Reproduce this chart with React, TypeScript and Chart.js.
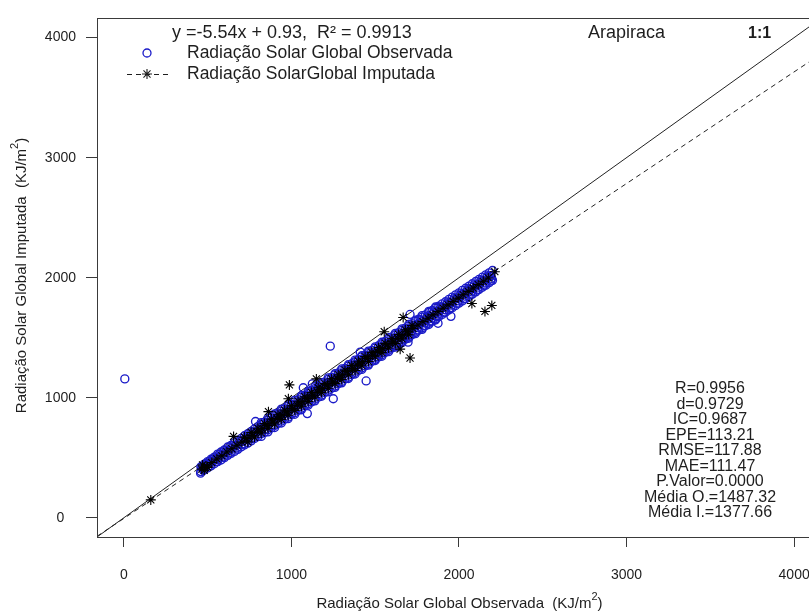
import React, { useEffect, useRef } from "react";
import { Chart, registerables } from "chart.js";

Chart.register(...registerables);

// ---------- data ----------
const X_TICKS = [0, 1000, 2000, 3000, 4000];
const Y_TICKS = [0, 1000, 2000, 3000, 4000];
const AXIS_MIN = -160;
const AXIS_MAX = 4160;
const REG_SLOPE = 0.93;
const REG_INTERCEPT = -5.54;

const EQUATION_TEXT = "y =-5.54x + 0.93,  R\u00b2 = 0.9913";
const SERIES_OBS = "Radiação Solar Global Observada";
const SERIES_IMP = "Radiação SolarGlobal Imputada";
const STATION = "Arapiraca";
const ONE_TO_ONE = "1:1";
const STATS_LINES = [
  "R=0.9956",
  "d=0.9729",
  "IC=0.9687",
  "EPE=113.21",
  "RMSE=117.88",
  "MAE=111.47",
  "P.Valor=0.0000",
  "Média O.=1487.32",
  "Média I.=1377.66",
];
const X_TITLE = "Radiação Solar Global Observada  (KJ/m";
const Y_TITLE = "Radiação Solar Global Imputada  (KJ/m";

// observed (blue circles)
const observedPoints: [number, number][] = [
  [6, 1157], [458, 372],
  [460, 425], [460, 385], [480, 447], [480, 400], [500, 468], [500, 415], [520, 488], [520, 432],
  [540, 505], [540, 450], [560, 530], [560, 468], [580, 548], [580, 481], [600, 566], [600, 500],
  [620, 590], [620, 520], [640, 603], [640, 536], [660, 626], [660, 553], [680, 645], [680, 570],
  [700, 661], [700, 590], [720, 684], [720, 606], [740, 700], [740, 622], [760, 719], [760, 641],
  [780, 740], [780, 660], [800, 760], [800, 676], [820, 778], [820, 700], [840, 795], [840, 712],
  [860, 812], [860, 733], [880, 835], [880, 748], [900, 851], [900, 770], [920, 872], [920, 785],
  [940, 890], [940, 805], [960, 909], [960, 822], [980, 928], [980, 838], [1000, 945], [1000, 860],
  [1020, 966], [1020, 876], [1040, 984], [1040, 895], [1060, 1004], [1060, 912], [1080, 1020], [1080, 933],
  [1100, 1040], [1100, 950], [1120, 1060], [1120, 966], [1140, 1076], [1140, 988], [1160, 1096], [1160, 1005],
  [1180, 1115], [1180, 1022], [1200, 1132], [1200, 1044], [1220, 1153], [1220, 1062], [1240, 1170], [1240, 1080],
  [1260, 1190], [1260, 1097], [1280, 1207], [1280, 1118], [1300, 1228], [1300, 1135], [1320, 1245], [1320, 1156],
  [1340, 1264], [1340, 1171], [1360, 1283], [1360, 1192], [1380, 1300], [1380, 1210], [1400, 1320], [1400, 1228],
  [1420, 1340], [1420, 1248], [1440, 1356], [1440, 1265], [1460, 1377], [1460, 1283], [1480, 1394], [1480, 1303],
  [1500, 1413], [1500, 1320], [1520, 1433], [1520, 1340], [1540, 1450], [1540, 1358], [1560, 1470], [1560, 1377],
  [1580, 1486], [1580, 1396], [1600, 1507], [1600, 1414], [1620, 1525], [1620, 1434], [1640, 1543], [1640, 1450],
  [1660, 1562], [1660, 1470], [1680, 1580], [1680, 1488], [1700, 1598], [1700, 1506], [1720, 1618], [1720, 1526],
  [1740, 1635], [1740, 1545], [1760, 1654], [1760, 1563], [1780, 1672], [1780, 1582], [1800, 1690], [1800, 1600],
  [1820, 1710], [1820, 1620], [1840, 1727], [1840, 1637], [1860, 1745], [1860, 1657], [1880, 1763], [1880, 1675],
  [1900, 1782], [1900, 1694], [1920, 1800], [1920, 1713], [1940, 1820], [1940, 1731], [1960, 1838], [1960, 1750],
  [1980, 1857], [1980, 1768], [2000, 1874], [2000, 1788], [2020, 1894], [2020, 1806], [2040, 1912], [2040, 1826],
  [2060, 1930], [2060, 1843], [2080, 1950], [2080, 1862], [2100, 1968], [2100, 1882], [2120, 1986], [2120, 1902],
  [2140, 2005], [2140, 1920], [2160, 2024], [2160, 1938], [2180, 2040], [2180, 1958], [2200, 2060], [2200, 1978],
  [470, 412], [510, 450], [550, 487], [590, 522], [630, 560], [670, 598], [710, 636], [750, 672],
  [790, 710], [830, 748], [870, 785], [910, 820], [950, 858], [990, 896], [1030, 932], [1070, 970],
  [1110, 1008], [1150, 1044], [1190, 1082], [1230, 1118], [1270, 1157], [1310, 1194], [1350, 1230], [1390, 1268],
  [1430, 1305], [1470, 1342], [1510, 1380], [1550, 1416], [1590, 1454], [1630, 1492], [1670, 1528], [1710, 1566],
  [1750, 1603], [1790, 1640], [1830, 1677], [1870, 1714], [1910, 1752], [1950, 1788], [1990, 1826], [2030, 1862],
  [2070, 1900], [2110, 1938], [2150, 1975], [2190, 2012],
  [490, 451], [530, 489], [570, 526], [610, 561], [650, 600], [690, 636], [730, 675], [770, 710],
  [810, 749], [850, 785], [890, 824], [930, 858], [970, 898], [1010, 935], [1050, 970], [1090, 1010],
  [1130, 1045], [1170, 1084], [1210, 1121], [1250, 1157], [1290, 1196], [1330, 1232], [1370, 1270], [1410, 1306],
  [1450, 1345], [1490, 1380], [1530, 1419], [1570, 1454], [1610, 1493], [1650, 1529], [1690, 1568], [1730, 1603],
  [1770, 1642], [1810, 1677], [1850, 1716], [1890, 1752], [1930, 1790], [1970, 1826], [2010, 1865], [2050, 1900],
  [2090, 1940], [2130, 1975], [2170, 2013],
  [475, 395], [515, 433], [555, 468], [595, 507], [635, 543], [675, 582], [715, 617], [755, 656],
  [795, 691], [835, 731], [875, 766], [915, 805], [955, 840], [995, 879], [1035, 915], [1075, 954],
  [1115, 989], [1155, 1028], [1195, 1063], [1235, 1102], [1275, 1138], [1315, 1177], [1355, 1212], [1395, 1251],
  [1435, 1287], [1475, 1326], [1515, 1361], [1555, 1400], [1595, 1435], [1635, 1474], [1675, 1510], [1715, 1549],
  [1755, 1584], [1795, 1623], [1835, 1659], [1875, 1698], [1915, 1733], [1955, 1772], [1995, 1807], [2035, 1846],
  [2075, 1882], [2115, 1921], [2155, 1956], [2195, 1994],
  [820, 793], [820, 678], [860, 830], [860, 716], [900, 866], [900, 752], [940, 905], [940, 790],
  [980, 942], [980, 826], [1020, 978], [1020, 862], [1060, 1017], [1060, 900], [1100, 1052], [1100, 938],
  [1140, 1092], [1140, 974], [1180, 1126], [1180, 1012], [1220, 1166], [1220, 1050], [1260, 1200], [1260, 1086],
  [1300, 1240], [1300, 1124], [1340, 1275], [1340, 1160], [1380, 1314], [1380, 1198], [1420, 1350], [1420, 1236],
  [1460, 1388], [1460, 1272], [1500, 1424], [1500, 1310], [1540, 1462], [1540, 1346], [1580, 1500], [1580, 1384],
  [1620, 1536], [1620, 1422], [1660, 1574], [1660, 1458], [1700, 1610], [1700, 1496], [1740, 1646], [1740, 1534],
  [1780, 1684], [1780, 1570], [1820, 1720], [1820, 1610], [1860, 1756], [1860, 1648],
  [465, 415], [485, 434], [505, 453], [525, 471], [545, 490], [565, 508], [585, 527], [605, 546],
  [625, 564], [645, 583], [665, 601], [685, 620], [705, 639], [725, 657], [745, 676], [765, 694],
  [785, 713], [805, 732], [825, 750], [845, 769], [865, 787], [885, 806], [905, 825], [925, 843],
  [945, 862], [965, 880], [985, 899], [1005, 918], [1025, 936], [1045, 955], [1065, 973], [1085, 992],
  [1105, 1011], [1125, 1029], [1145, 1048], [1165, 1066], [1185, 1085], [1205, 1104], [1225, 1122], [1245, 1141],
  [1265, 1159], [1285, 1178], [1305, 1197], [1325, 1215], [1345, 1234], [1365, 1252], [1385, 1271], [1405, 1290],
  [1425, 1308], [1445, 1327], [1465, 1345], [1485, 1364], [1505, 1383], [1525, 1401], [1545, 1420], [1565, 1438],
  [1585, 1457], [1605, 1476], [1625, 1494], [1645, 1513], [1665, 1531], [1685, 1550], [1705, 1569], [1725, 1587],
  [1745, 1606], [1765, 1624], [1785, 1643], [1805, 1662], [1825, 1680], [1845, 1699], [1865, 1717], [1885, 1736],
  [1905, 1755], [1925, 1773], [1945, 1792], [1965, 1810], [1985, 1829], [2005, 1848], [2025, 1866], [2045, 1885],
  [2065, 1903], [2085, 1922], [2105, 1941], [2125, 1959], [2145, 1978], [2165, 1996], [2185, 2015],
  [1510, 1339], [1550, 1377], [1590, 1414], [1630, 1451], [1670, 1488], [1710, 1525], [1750, 1563], [1790, 1600],
  [1830, 1637], [1870, 1674], [1910, 1711], [1950, 1749], [1990, 1786], [2030, 1823], [2070, 1860], [2110, 1897],
  [2150, 1935], [2190, 1972],
  [1232, 1430], [1446, 1140], [1411, 1380], [1250, 992], [1125, 1116], [786, 802], [1071, 1083], [1095, 868],
  [1708, 1694], [1875, 1620], [1952, 1678], [1696, 1463],
];

// imputed (black asterisks)
const imputedPoints: [number, number][] = [
  [161, 149], [470, 440], [480, 395], [500, 420],
  [465, 405], [495, 430], [525, 460], [555, 490], [585, 516], [615, 548], [645, 575], [675, 604],
  [705, 630], [735, 660], [765, 686], [795, 716], [825, 742], [855, 770], [885, 798], [915, 826],
  [945, 855], [975, 880], [1005, 910], [1035, 938], [1065, 966], [1095, 993], [1125, 1022], [1155, 1048],
  [1185, 1078], [1215, 1105], [1245, 1132], [1275, 1160], [1305, 1190], [1335, 1216], [1365, 1245], [1395, 1272],
  [1425, 1300], [1455, 1328], [1485, 1355], [1515, 1384], [1545, 1410], [1575, 1440], [1605, 1467], [1635, 1494],
  [1665, 1522], [1695, 1550], [1725, 1578], [1755, 1606], [1785, 1634], [1815, 1662], [1845, 1690], [1875, 1718],
  [1905, 1746], [1935, 1774], [1965, 1802], [1995, 1830], [2025, 1858], [2055, 1886], [2085, 1914], [2115, 1942],
  [2145, 1970], [2175, 1998],
  [720, 672], [760, 711], [800, 746], [840, 785], [880, 822], [920, 858], [960, 897], [1000, 932],
  [1040, 971], [1080, 1008], [1120, 1044], [1160, 1083], [1200, 1118], [1240, 1157], [1280, 1192], [1320, 1230],
  [1360, 1269], [1400, 1304], [1440, 1343], [1480, 1378], [1520, 1418], [1560, 1453], [1600, 1492], [1640, 1527],
  [1680, 1566], [1720, 1602],
  [740, 632], [780, 671], [820, 707], [860, 746], [900, 781], [940, 820], [980, 855], [1020, 895],
  [1060, 930], [1100, 969], [1140, 1004], [1180, 1043], [1220, 1079], [1260, 1118], [1300, 1153], [1340, 1192],
  [1380, 1227], [1420, 1267], [1460, 1302], [1500, 1341], [1540, 1376], [1580, 1415], [1620, 1451], [1660, 1490],
  [1700, 1525],
  [655, 678], [863, 884], [982, 992], [988, 1107], [1149, 1157], [1554, 1550], [1667, 1669], [1649, 1405],
  [1708, 1331], [2077, 1785], [2155, 1719], [2196, 1769], [2214, 2050],
];

// ---------- layout constants ----------
const CANVAS_W = 830;
const CANVAS_H = 611;
const PLOT_LEFT = 97;
const PLOT_TOP = 14;
const PLOT_RIGHT = 822;
const PLOT_BOTTOM = 537;
const FONT = '"Liberation Sans", Arial, Helvetica, sans-serif';
const BLUE = "#1a1ac8";
const INK = "#1e1e1e";

function drawSupText(
  ctx: CanvasRenderingContext2D,
  main: string,
  sup: string,
  tail: string,
  cx: number,
  cy: number,
  size: number
) {
  ctx.font = `${size}px ${FONT}`;
  const wMain = ctx.measureText(main).width;
  const wTail = ctx.measureText(tail).width;
  const supSize = Math.round(size * 0.7);
  ctx.font = `${supSize}px ${FONT}`;
  const wSup = ctx.measureText(sup).width;
  const total = wMain + wSup + wTail;
  let x = cx - total / 2;
  ctx.textAlign = "left";
  ctx.textBaseline = "middle";
  ctx.font = `${size}px ${FONT}`;
  ctx.fillText(main, x, cy);
  x += wMain;
  ctx.font = `${supSize}px ${FONT}`;
  ctx.fillText(sup, x, cy - size * 0.45);
  x += wSup;
  ctx.font = `${size}px ${FONT}`;
  ctx.fillText(tail, x, cy);
}

const decorPlugin = {
  id: "decor",
  afterDraw(chart: any) {
    const ctx: CanvasRenderingContext2D = chart.ctx;
    const a = chart.chartArea;
    ctx.save();
    // plot box
    ctx.strokeStyle = "#3a3a3a";
    ctx.lineWidth = 1;
    ctx.setLineDash([]);
    ctx.strokeRect(Math.round(a.left) + 0.5, Math.round(a.top) + 0.5, Math.round(a.right - a.left), Math.round(a.bottom - a.top));

    ctx.fillStyle = INK;
    // legend
    ctx.textAlign = "left";
    ctx.textBaseline = "middle";
    ctx.font = `18px ${FONT}`;
    ctx.fillText(EQUATION_TEXT, 172, 33);
    ctx.font = `17.5px ${FONT}`;
    ctx.fillText(SERIES_OBS, 187, 53);
    ctx.fillText(SERIES_IMP, 187, 74);
    // legend circle
    ctx.strokeStyle = BLUE;
    ctx.lineWidth = 1.3;
    ctx.beginPath();
    ctx.arc(147, 53, 4, 0, Math.PI * 2);
    ctx.stroke();
    // legend dashed line + asterisk
    ctx.strokeStyle = INK;
    ctx.lineWidth = 1;
    ctx.setLineDash([5, 4]);
    ctx.beginPath();
    ctx.moveTo(127, 74.5);
    ctx.lineTo(168, 74.5);
    ctx.stroke();
    ctx.setLineDash([]);
    ctx.lineWidth = 1.1;
    const r = 5;
    ctx.beginPath();
    ctx.moveTo(147 - r, 74);
    ctx.lineTo(147 + r, 74);
    ctx.moveTo(147, 74 - r);
    ctx.lineTo(147, 74 + r);
    const d = r * Math.SQRT1_2;
    ctx.moveTo(147 - d, 74 - d);
    ctx.lineTo(147 + d, 74 + d);
    ctx.moveTo(147 - d, 74 + d);
    ctx.lineTo(147 + d, 74 - d);
    ctx.stroke();

    // station & 1:1
    ctx.fillStyle = INK;
    ctx.font = `18px ${FONT}`;
    ctx.fillText(STATION, 588, 33);
    ctx.font = `bold 16px ${FONT}`;
    ctx.fillText(ONE_TO_ONE, 748, 34);

    // statistics
    ctx.textAlign = "center";
    ctx.font = `16px ${FONT}`;
    STATS_LINES.forEach((s, i) => {
      ctx.fillText(s, 710, 389 + i * 15.5);
    });

    // axis titles
    ctx.fillStyle = INK;
    drawSupText(ctx, X_TITLE, "2", ")", (PLOT_LEFT + PLOT_RIGHT) / 2, 604, 15);
    ctx.save();
    ctx.translate(22, (PLOT_TOP + PLOT_BOTTOM) / 2);
    ctx.rotate(-Math.PI / 2);
    drawSupText(ctx, Y_TITLE, "2", ")", 0, 0, 15);
    ctx.restore();
    ctx.restore();
  },
};

export default function App() {
  const canvasRef = useRef<HTMLCanvasElement | null>(null);

  useEffect(() => {
    document.body.style.margin = "0";
    document.body.style.overflow = "hidden";
    const canvas = canvasRef.current;
    if (!canvas) return;

    const regStart = { x: AXIS_MIN, y: REG_SLOPE * AXIS_MIN + REG_INTERCEPT };
    const regEnd = { x: AXIS_MAX, y: REG_SLOPE * AXIS_MAX + REG_INTERCEPT };

    const chart = new Chart(canvas, {
      type: "scatter",
      data: {
        datasets: [
          {
            label: SERIES_IMP,
            data: imputedPoints.map(([x, y]) => ({ x, y })),
            pointStyle: "star",
            pointRadius: 5,
            pointBorderColor: "#000000",
            pointBackgroundColor: "#000000",
            pointBorderWidth: 1.1,
            borderColor: "#000000",
            showLine: false,
            order: 0,
          } as any,
          {
            label: SERIES_OBS,
            data: observedPoints.map(([x, y]) => ({ x, y })),
            pointStyle: "circle",
            pointRadius: 4,
            pointBorderColor: BLUE,
            pointBackgroundColor: "rgba(0,0,0,0)",
            pointBorderWidth: 1.35,
            borderColor: BLUE,
            showLine: false,
            order: 1,
          } as any,
          {
            label: "1:1",
            data: [
              { x: AXIS_MIN, y: AXIS_MIN },
              { x: AXIS_MAX, y: AXIS_MAX },
            ],
            showLine: true,
            borderColor: "#222222",
            borderWidth: 1,
            pointRadius: 0,
            order: 2,
          } as any,
          {
            label: "regressão",
            data: [regStart, regEnd],
            showLine: true,
            borderColor: "#222222",
            borderWidth: 1,
            borderDash: [5, 4],
            pointRadius: 0,
            order: 3,
          } as any,
        ],
      },
      options: {
        responsive: false,
        animation: false,
        devicePixelRatio: 1,
        events: [],
        layout: {
          padding: { top: PLOT_TOP, right: CANVAS_W - PLOT_RIGHT, left: 0, bottom: 0 },
        },
        plugins: {
          legend: { display: false },
          tooltip: { enabled: false },
          title: { display: false },
        },
        scales: {
          x: {
            type: "linear",
            min: AXIS_MIN,
            max: AXIS_MAX,
            afterBuildTicks: (scale: any) => {
              scale.ticks = X_TICKS.map((v) => ({ value: v }));
            },
            afterFit: (scale: any) => {
              scale.height = CANVAS_H - PLOT_BOTTOM;
            },
            ticks: {
              autoSkip: false,
              maxRotation: 0,
              padding: 20,
              color: INK,
              font: { family: FONT, size: 14 },
              callback: (v: any) => String(v),
            },
            grid: {
              display: true,
              drawOnChartArea: false,
              drawTicks: true,
              tickLength: 10,
              color: "#3a3a3a",
              lineWidth: 1,
            },
            border: { display: false },
          },
          y: {
            type: "linear",
            min: AXIS_MIN,
            max: AXIS_MAX,
            afterBuildTicks: (scale: any) => {
              scale.ticks = Y_TICKS.map((v) => ({ value: v }));
            },
            afterFit: (scale: any) => {
              scale.width = PLOT_LEFT;
            },
            ticks: {
              autoSkip: false,
              padding: 10,
              crossAlign: "center",
              color: INK,
              font: { family: FONT, size: 14 },
              callback: (v: any) => String(v),
            },
            grid: {
              display: true,
              drawOnChartArea: false,
              drawTicks: true,
              tickLength: 11,
              color: "#3a3a3a",
              lineWidth: 1,
            },
            border: { display: false },
          },
        },
      } as any,
      plugins: [decorPlugin],
    });

    return () => {
      chart.destroy();
    };
  }, []);

  return (
    <div
      style={{
        position: "fixed",
        left: 0,
        top: 0,
        width: 809,
        height: 611,
        overflow: "hidden",
        background: "#ffffff",
      }}
    >
      <canvas ref={canvasRef} width={CANVAS_W} height={CANVAS_H} style={{ display: "block" }} />
    </div>
  );
}
